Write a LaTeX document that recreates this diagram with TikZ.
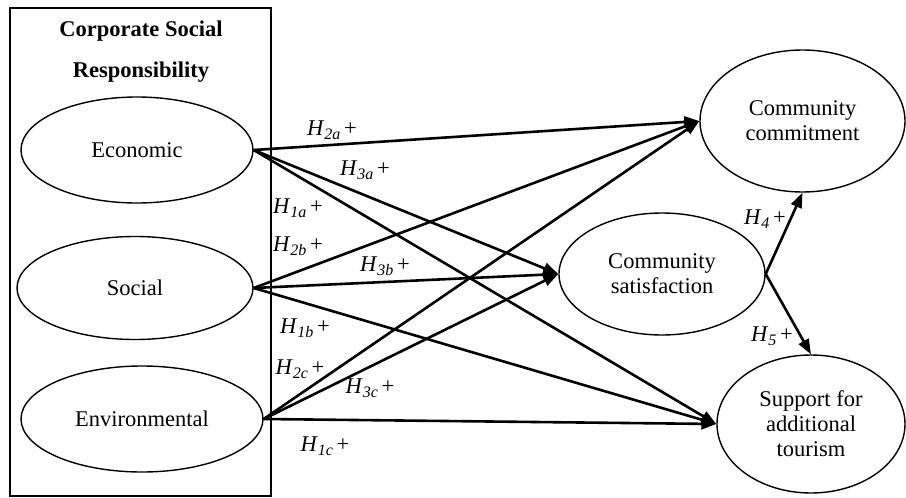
\documentclass[tikz,border=0pt]{standalone}
\usepackage{fontspec}
\setmainfont{Liberation Serif}
\usetikzlibrary{shapes.geometric,arrows.meta}
\newcommand{\hyp}[1]{\textit{H}\raisebox{-0.2em}{\fontsize{16}{16}\selectfont\textit{#1}}\,+}
\begin{document}
\begin{tikzpicture}[x=1pt,y=-1pt,
  every node/.style={font=\fontsize{22.5}{25}\selectfont},
  oval/.style={draw,line width=1.4pt,ellipse,inner sep=0pt,align=center},
  path/.style={line width=2.6pt,-{Triangle[length=15pt,width=11pt]}},
  lab/.style={inner sep=0pt}]
\useasboundingbox (0,0) rectangle (906,498);
\draw[line width=1.4pt] (10,8) rectangle (271,496);
\node[align=center,font=\fontsize{22.5}{41}\selectfont\bfseries] (title) at (141,52) {Corporate Social\\Responsibility};
\node[oval,minimum width=232pt,minimum height=106pt] (eco) at (137,150) {Economic};
\node[oval,minimum width=236pt,minimum height=103pt] (soc) at (135,288) {Social};
\node[oval,minimum width=242pt,minimum height=106pt] (env) at (142,419) {Environmental};
\node[oval,minimum width=205pt,minimum height=142pt] (com) at (802.5,121) {Community\\commitment};
\node[oval,minimum width=206pt,minimum height=122pt] (sat) at (662,274) {Community\\satisfaction};
\node[oval,minimum width=188pt,minimum height=138pt] (sup) at (811,424) {Support for\\additional\\tourism};
\draw[path] (eco.east) -- (com.west);
\draw[path] (eco.east) -- (sat.west);
\draw[path] (eco.east) -- (sup.west);
\draw[path] (soc.east) -- (com.west);
\draw[path] (soc.east) -- (sat.west);
\draw[path] (soc.east) -- (sup.west);
\draw[path] (env.east) -- (com.west);
\draw[path] (env.east) -- (sat.west);
\draw[path] (env.east) -- (sup.west);
\draw[path] (sat.east) -- (com.south);
\draw[path] (sat.east) -- (sup.north);
\node[lab] (h2a) at (332,130) {\hyp{2a}};
\node[lab] (h3a) at (365,170) {\hyp{3a}};
\node[lab] (h1a) at (298,208) {\hyp{1a}};
\node[lab] (h2b) at (298,246) {\hyp{2b}};
\node[lab] (h3b) at (385,266) {\hyp{3b}};
\node[lab] (h1b) at (305,328) {\hyp{1b}};
\node[lab] (h2c) at (300,369) {\hyp{2c}};
\node[lab] (h3c) at (370,388) {\hyp{3c}};
\node[lab] (h1c) at (325,446) {\hyp{1c}};
\node[lab] (h4) at (765,219) {\hyp{4}};
\node[lab] (h5) at (772,336) {\hyp{5}};
\end{tikzpicture}
\end{document}
